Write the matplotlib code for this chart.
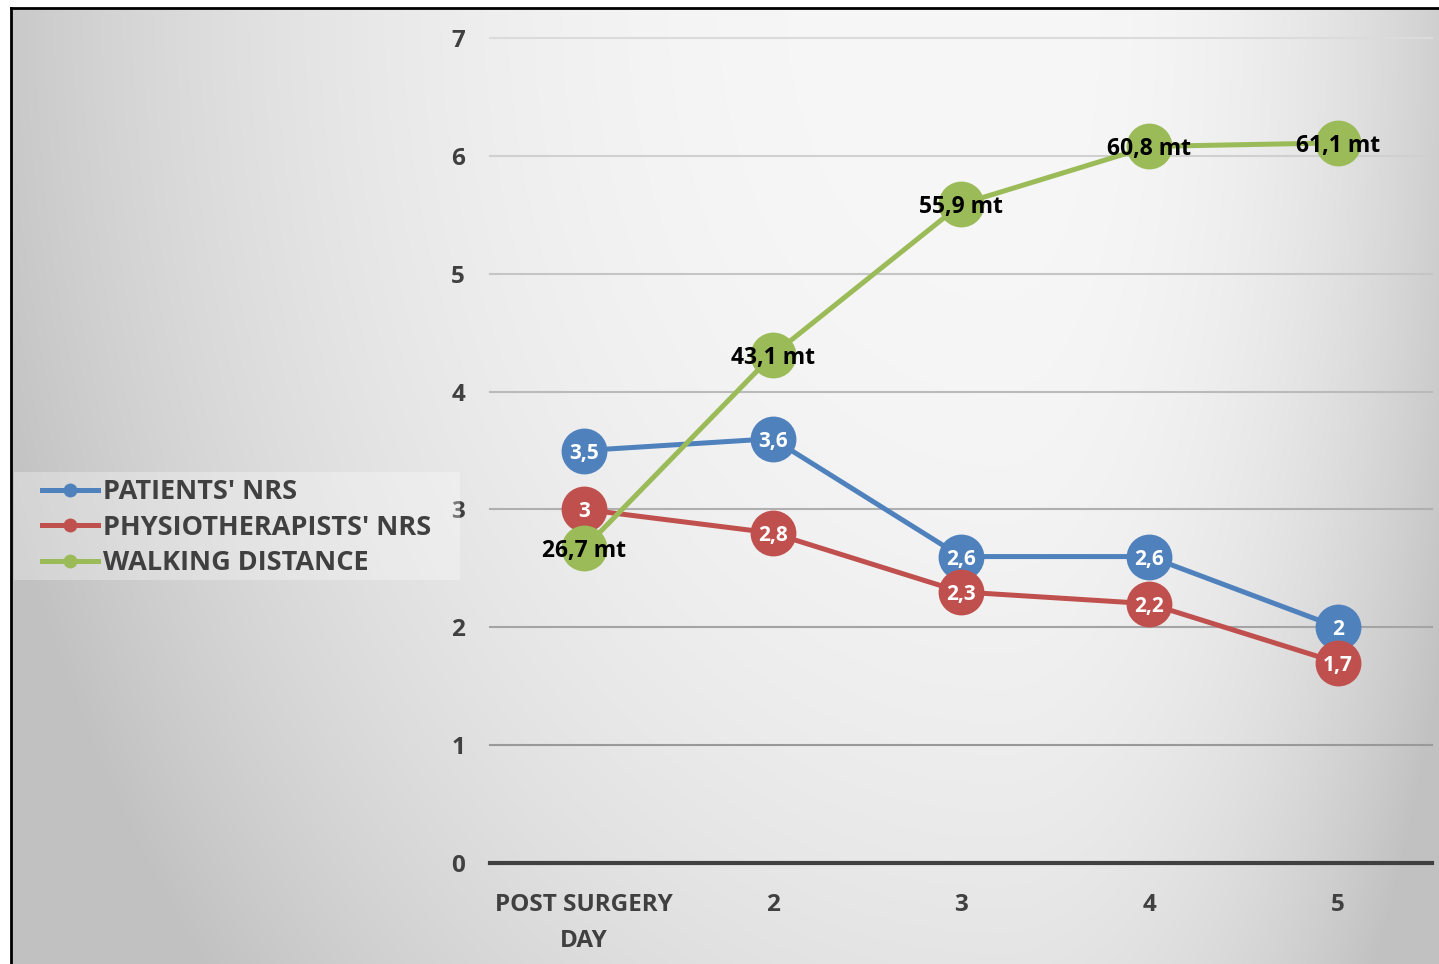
import numpy as np
import matplotlib.pyplot as plt
from matplotlib.lines import Line2D
from matplotlib.patches import Rectangle

plt.rcParams['font.family'] = ['Open Sans', 'DejaVu Sans']
plt.rcParams['font.weight'] = 'bold'

days = ['POST SURGERY\nDAY', '2', '3', '4', '5']
patients_nrs = [3.5, 3.6, 2.6, 2.6, 2.0]
physio_nrs = [3.0, 2.8, 2.3, 2.2, 1.7]
walking_mt = [26.7, 43.1, 55.9, 60.8, 61.1]
series_names = ["PATIENTS' NRS", "PHYSIOTHERAPISTS' NRS", "WALKING DISTANCE"]

blue = '#4f81bd'
red = '#c0504d'
green = '#9bbb59'
dark = '#404040'

W, H = 1439, 964
fig = plt.figure(figsize=(W / 100, H / 100), dpi=100)

# grey shaded backdrop, black frame on top and left
x0, y0 = 11, 8
bg = fig.add_axes([x0 / W, 0, 1 - x0 / W, 1 - y0 / H])
xx, yy = np.meshgrid(np.arange(x0, W), np.arange(y0, H))
cx, cy = 1000, 0
dx = np.where(xx < cx, (xx - cx) / 1000, (xx - cx) / 470)
dy = (yy - cy) / 1400
r = np.clip(np.hypot(dx, dy), 0, 1.05)
shade = (247 - 47 * r ** 2.5) / 255
bg.imshow(np.dstack([shade] * 3), aspect='auto', interpolation='bilinear')
bg.set_xticks([])
bg.set_yticks([])
for s in ['right', 'bottom']:
    bg.spines[s].set_visible(False)
for s in ['top', 'left']:
    bg.spines[s].set_linewidth(2)
    bg.spines[s].set_color('black')

ax = fig.add_axes([490 / W, 1 - 863 / H, (1432 - 490) / W, (863 - 38) / H])
ax.patch.set_alpha(0)
x = np.arange(len(days))
ax.set_xlim(-0.5, 4.5)
ax.set_ylim(0, 7)

# gridlines fade out towards the top
for v in range(1, 8):
    ax.axhline(v, color=str(0.6 + 0.043 * (v - 1)), lw=1.5, clip_on=False, zorder=1)

for s in ['top', 'right', 'left']:
    ax.spines[s].set_visible(False)
ax.spines['bottom'].set_color(dark)
ax.spines['bottom'].set_linewidth(3)

ax.set_yticks(range(8))
ax.set_xticks(x)
ax.set_xticklabels(days)
ax.tick_params(axis='y', length=0, pad=18, labelsize=17.5, labelcolor=dark)
ax.tick_params(axis='x', length=0, pad=21.5, labelsize=17.5, labelcolor=dark)
for lbl in ax.get_xticklabels() + ax.get_yticklabels():
    lbl.set_fontweight('bold')
for lbl in ax.get_xticklabels():
    lbl.set_linespacing(1.7)

ms = 33
lw = 3.6
walk_scaled = [d / 10 for d in walking_mt]
ax.plot(x, patients_nrs, color=blue, lw=lw, marker='o', ms=ms, mew=0, zorder=3)
ax.plot(x, physio_nrs, color=red, lw=lw, marker='o', ms=ms, mew=0, zorder=4)
ax.plot(x, walk_scaled, color=green, lw=lw, marker='o', ms=ms, mew=0, zorder=5)

def fmt(v):
    return f'{v:g}'.replace('.', ',')

for xi, v in zip(x, patients_nrs):
    ax.text(xi, v, fmt(v), ha='center', va='center_baseline', color='white', fontsize=15,
            fontweight='bold', zorder=10)
for xi, v in zip(x, physio_nrs):
    ax.text(xi, v, fmt(v), ha='center', va='center_baseline', color='white', fontsize=15,
            fontweight='bold', zorder=10)
for xi, d, v in zip(x, walking_mt, walk_scaled):
    ax.text(xi, v, fmt(d) + ' mt', ha='center', va='center_baseline', color='black',
            fontsize=16.5, fontweight='bold', zorder=10)

# legend box on the left
fig.add_artist(Rectangle((14 / W, 1 - 580 / H), (460 - 14) / W, (580 - 472) / H,
                         transform=fig.transFigure, facecolor='white', alpha=0.3,
                         edgecolor='none', zorder=1))
handles = [Line2D([], [], color=c, lw=lw, marker='o', ms=10, mew=0) for c in (blue, red, green)]
fig.legend(handles, series_names, loc='upper left', bbox_to_anchor=(42 / W, 1 - 479 / H),
           frameon=False, prop=dict(size=19.5, weight='bold'), labelcolor=dark,
           handlelength=2.05, handletextpad=0.2, labelspacing=0.36, borderpad=0, borderaxespad=0)

fig.savefig('out.png', dpi=100)
